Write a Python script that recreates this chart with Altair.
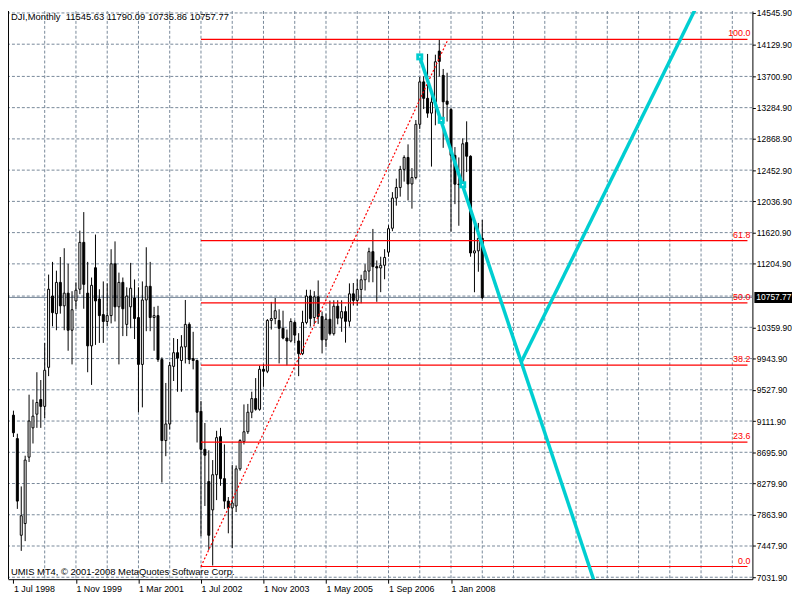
import altair as alt
import pandas as pd

# ---------------- data ----------------
bar_open = [9190, 8878, 7591, 7747, 8631, 9021, 9203, 9398, 9307, 9827,
            10776, 10542, 10958, 10646, 10815, 10321, 10711, 10867, 11491, 10815,
            10113, 11153, 10737, 10529, 10438, 10516, 11205, 10633, 10958, 10399,
            10633, 10750, 10490, 9866, 10724, 10906, 10490, 10516, 9931, 8852,
            9073, 9840, 10022, 9918, 10100, 10399, 9944, 9918, 9242, 8735,
            8306, 7929, 8397, 8904, 8345, 8046, 7955, 7981, 8475, 8839,
            8969, 9229, 9411, 9268, 9801, 9775, 10451, 10477, 10451, 10347,
            10217, 10178, 10425, 10178, 10009, 10425, 10776, 10490, 10766, 10504,
            10193, 10467, 10275, 10641, 10482, 10569, 10440, 10806, 10718, 10864,
            10993, 11109, 11367, 11168, 11150, 11186, 11361, 11679, 12081, 12222,
            12463, 12622, 12269, 12354, 13063, 13628, 13409, 13212, 13358, 14038,
            13714, 13372, 13261, 12650, 12266, 12263, 12820, 12638, 11350, 11378,
            11545.63]
bar_high = [9250, 8943, 8241, 8650, 9463, 9398, 9762, 9658, 10152, 11062,
            11231, 11114, 11296, 11413, 11205, 10841, 10958, 11647, 11894, 11231,
            11023, 11595, 10867, 10971, 10945, 11400, 11504, 11088, 11023, 10893,
            11218, 10997, 10893, 10971, 11426, 11231, 10633, 10646, 9960, 9619,
            9900, 10217, 10204, 10256, 10724, 10425, 10300, 9930, 9380, 9086,
            8722, 8592, 8982, 9021, 8800, 8100, 8527, 8520, 8870, 9333,
            9340, 9502, 9684, 9850, 9870, 10470, 10698, 10750, 10600, 10581,
            10330, 10480, 10450, 10282, 10581, 10860, 10860, 10841, 10984, 10570,
            10542, 10716, 10720, 10720, 10720, 10640, 10945, 10950, 11000, 11060,
            11200, 11420, 11670, 11250, 11300, 11400, 11720, 12160, 12340, 12510,
            12650, 12796, 12480, 13120, 13692, 13700, 14000, 13500, 13990, 14195,
            13800, 13750, 13280, 12760, 12622, 12876, 13103, 12650, 11750, 11750,
            11790.09]
bar_low = [8900, 7942, 7383, 7513, 8566, 8813, 9021, 9021, 9151, 9710,
           10373, 10321, 10542, 10321, 10048, 9866, 10607, 10802, 10607, 9762,
           9593, 10126, 10152, 10152, 10373, 10412, 10438, 9866, 10243, 10243,
           10347, 10204, 9229, 9294, 10308, 10308, 10048, 9900, 8293, 8644,
           9000, 9645, 9502, 9502, 9879, 9870, 9800, 8826, 7578, 7981,
           7396, 7188, 8059, 8250, 7942, 7617, 7422, 7900, 8450, 8800,
           8940, 9150, 9250, 9250, 9567, 9750, 10330, 10400, 9879, 10200,
           9853, 10160, 10150, 9710, 9990, 10400, 10370, 10400, 10405, 10012,
           10098, 10252, 10250, 10400, 10300, 10156, 10370, 10650, 10650, 10680,
           10850, 10960, 10960, 10700, 10828, 11000, 11300, 11640, 11980, 12100,
           12300, 12050, 11940, 12330, 13000, 13266, 13150, 12500, 13050, 13700,
           12750, 13100, 11634, 12000, 11712, 12200, 12427, 11300, 10827, 11100,
           10735.86]
bar_close = [8956, 8046, 7851, 8592, 9112, 9177, 9359, 9307, 9788, 10867,
             10555, 10958, 10646, 10815, 10321, 10594, 10854, 11491, 10932, 10113,
             10919, 10711, 10516, 10438, 10516, 11205, 10633, 10958, 10607, 10776,
             10880, 10477, 9866, 10724, 10906, 10490, 10516, 9931, 8852, 9073,
             9853, 10022, 9950, 10100, 10399, 9931, 9918, 9229, 8735, 8657,
             7591, 8397, 8891, 8345, 8046, 7955, 8020, 8475, 8852, 8969,
             9229, 9411, 9268, 9801, 9775, 10451, 10477, 10581, 10347, 10217,
             10178, 10438, 10256, 10009, 10425, 10776, 10477, 10766, 10504, 10193,
             10467, 10275, 10641, 10482, 10569, 10440, 10806, 10718, 10864, 10993,
             11109, 11367, 11168, 11150, 11186, 11290, 11673, 12081, 12222, 12463,
             12622, 12269, 12354, 13063, 13628, 13409, 13212, 13358, 13896, 13900,
             13363, 13330, 12650, 12266, 12260, 12804, 12638, 11350, 11378, 11544,
             10757.77]

x_tick_pos = [0, 16, 32, 48, 64, 80, 96, 112]
x_tick_labels = ["1 Jul 1998", "1 Nov 1999", "1 Mar 2001", "1 Jul 2002",
                 "1 Nov 2003", "1 May 2005", "1 Sep 2006", "1 Jan 2008"]
y_tick_values = [7031.90, 7447.90, 7863.90, 8279.90, 8695.90, 9111.90, 9527.90,
                 9943.90, 10359.90, 11204.90, 11620.90, 12036.90, 12452.90,
                 12868.90, 13284.90, 13700.90, 14129.90, 14545.90]
y_hidden_grid = [10775.90]
x_grid_pos = [8 * k for k in range(1, 24)]

fib_low = 7175.0
fib_high = 14195.0
fib_levels = [0.0, 23.6, 38.2, 50.0, 61.8, 100.0]
fib_start = 48
trend_x = [48, 111.25]
trend_y = [7175.0, 14195.0]

cyan_down_x = [104, 148.7]
cyan_down_y = [13961, 6970]
cyan_up_x = [130, 175.5]
cyan_up_y = [9900, 14700]
cyan_mark_x = [104, 109.5, 115]
cyan_mark_y = [13961, 13116, 12258]

last_price = 10757.77
title_text = "DJI,Monthly\u00a0\u00a011545.63 11790.09 10735.86 10757.77"
copyright_text = "UMIS MT4, \u00a9 2001-2008 MetaQuotes Software Corp."

# ---------------- layout ----------------
W, H = 752, 574
X_DOM = [-0.125, 187.875]   # exactly 4 px per monthly bar
Y_DOM = [7005.9, 14571.9]
FONT = "Liberation Sans"
GRID = "#778899"
CYAN = "#00CED1"
RED = "#FF0000"

xs = alt.Scale(domain=X_DOM, nice=False, zero=False)
ys = alt.Scale(domain=Y_DOM, nice=False, zero=False)

bars = pd.DataFrame({"i": list(range(len(bar_open))), "o": bar_open, "h": bar_high,
                     "l": bar_low, "c": bar_close})
bars["dir"] = ["up" if c >= o else "down" for o, c in zip(bar_open, bar_close)]

label_arr = "[" + ",".join("'%s'" % s for s in x_tick_labels) + "]"
pos_arr = "[" + ",".join(str(p) for p in x_tick_pos) + "]"
XA = alt.Axis(values=x_tick_pos, labelExpr=f"{label_arr}[indexof({pos_arr}, datum.value)]",
              grid=False, tickSize=4, tickColor="black", domainColor="black",
              labelAlign="left", labelBaseline="top", labelPadding=1,
              labelFont=FONT, labelFontSize=9, labelColor="black", title=None,
              labelOverlap=False, labelFlush=False)
YA = alt.Axis(orient="right", values=y_tick_values, format=".2f", grid=False,
              tickSize=3, tickColor="black", domainColor="black", labelPadding=1,
              labelFont=FONT, labelFontSize=8.5, labelColor="black", title=None,
              labelOverlap=False, labelFlush=False, labelBaseline="middle")


def X(f):
    return alt.X(f, scale=xs, axis=XA)


def Y(f):
    return alt.Y(f, scale=ys, axis=YA)


grid_h = alt.Chart(pd.DataFrame({"v": y_tick_values + y_hidden_grid})).mark_rule(
    color=GRID, strokeDash=[3, 2], strokeWidth=1).encode(y=Y("v:Q"))
grid_v = alt.Chart(pd.DataFrame({"p": x_grid_pos})).mark_rule(
    color=GRID, strokeDash=[3, 2], strokeWidth=1).encode(x=X("p:Q"))
price_line = alt.Chart(pd.DataFrame({"v": [last_price]})).mark_rule(
    color=GRID, strokeWidth=1).encode(y=Y("v:Q"))

wicks = alt.Chart(bars).mark_rule(color="black", strokeWidth=1).encode(
    x=X("i:Q"), y=Y("l:Q"), y2="h:Q")
bodies = alt.Chart(bars).mark_bar(size=2, stroke="black", strokeWidth=1).encode(
    x=X("i:Q"), y=Y("o:Q"), y2="c:Q",
    fill=alt.Fill("dir:N", scale=alt.Scale(domain=["up", "down"], range=["#ffffff", "#000000"]),
                  legend=None))

fib = pd.DataFrame({
    "lvl": fib_levels,
    "v": [fib_low + (fib_high - fib_low) * l / 100.0 for l in fib_levels],
    "lab": ["%.1f" % l for l in fib_levels],
    "x0": [fib_start] * len(fib_levels),
    "x1": [X_DOM[1]] * len(fib_levels),
})
fib_lines = alt.Chart(fib).mark_rule(color=RED, strokeWidth=1.2).encode(
    x=X("x0:Q"), x2="x1:Q", y=Y("v:Q"))
fib_text = alt.Chart(fib).mark_text(color=RED, font=FONT, fontSize=9, align="right",
                                    baseline="bottom", dy=-1).encode(
    x=alt.value(W - 2), y=Y("v:Q"), text="lab:N")

trend = alt.Chart(pd.DataFrame({"x0": [trend_x[0]], "x1": [trend_x[1]],
                                "y0": [trend_y[0]], "y1": [trend_y[1]]})).mark_rule(
    color=RED, strokeDash=[2, 2], strokeWidth=1.2).encode(
    x=X("x0:Q"), x2="x1:Q", y=Y("y0:Q"), y2="y1:Q")

cyan_df = pd.DataFrame({"x0": [cyan_down_x[0], cyan_up_x[0]], "x1": [cyan_down_x[1], cyan_up_x[1]],
                        "y0": [cyan_down_y[0], cyan_up_y[0]], "y1": [cyan_down_y[1], cyan_up_y[1]]})
cyan_lines = alt.Chart(cyan_df).mark_rule(color=CYAN, strokeWidth=3.5, clip=True).encode(
    x=X("x0:Q"), x2="x1:Q", y=Y("y0:Q"), y2="y1:Q")
cm = pd.DataFrame({"x": cyan_mark_x, "y": cyan_mark_y})
cyan_sq = alt.Chart(cm).mark_square(color=CYAN, size=50, opacity=1, filled=True).encode(
    x=X("x:Q"), y=Y("y:Q"))
cyan_dot = alt.Chart(cm).mark_square(color="white", size=2, opacity=1, filled=True).encode(
    x=X("x:Q"), y=Y("y:Q"))

price_box = alt.Chart(pd.DataFrame({"v": [last_price]})).mark_tick(
    color="black", orient="horizontal", size=48, thickness=11, opacity=1).encode(
    x=alt.value(W + 26), y=Y("v:Q"))
price_txt = alt.Chart(pd.DataFrame({"v": [last_price], "t": ["%.2f" % last_price]})).mark_text(
    color="white", font=FONT, fontSize=8.5, align="left", baseline="middle").encode(
    x=alt.value(W + 4), y=Y("v:Q"), text="t:N")

left_border = alt.Chart(pd.DataFrame({"a": [0]})).mark_rule(color="black", strokeWidth=1).encode(
    x=alt.value(0.5), y=alt.value(0), y2=alt.value(H))

title = alt.Chart(pd.DataFrame({"t": [title_text]})).mark_text(
    font=FONT, fontSize=9.5, color="black", align="left", baseline="top").encode(
    x=alt.value(3), y=alt.value(1), text="t:N")
copyright_mark = alt.Chart(pd.DataFrame({"t": [copyright_text]})).mark_text(
    font=FONT, fontSize=9.5, color="black", align="left", baseline="alphabetic").encode(
    x=alt.value(3), y=alt.value(H - 4), text="t:N")

chart = alt.layer(
    grid_h, grid_v, price_line, wicks, bodies, fib_lines, fib_text, trend,
    cyan_lines, cyan_sq, cyan_dot, price_box, price_txt, left_border, title, copyright_mark
).properties(
    width=W, height=H,
    autosize=alt.AutoSizeParams(type="none"),
    padding={"left": 0, "top": 0, "right": 40, "bottom": 20},
    background="white",
).configure_view(stroke=None)

chart.save("out.html", embed_options={"renderer": "svg", "actions": False})
